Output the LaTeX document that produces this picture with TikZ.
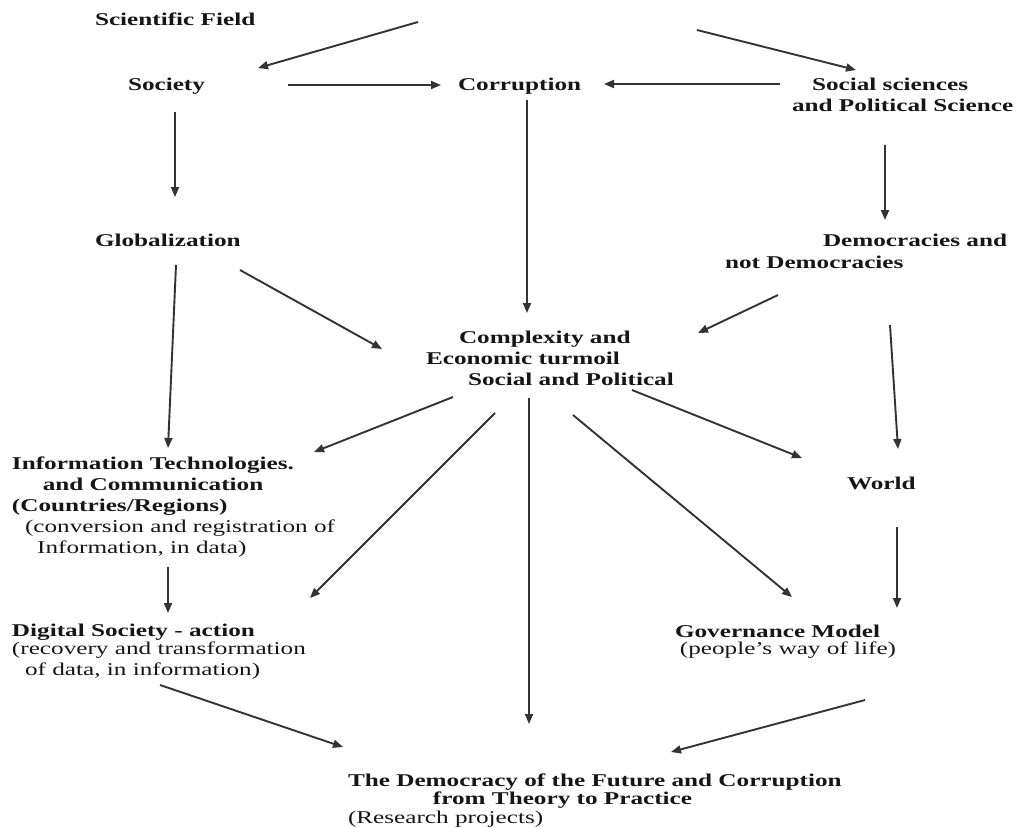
\documentclass[tikz,border=0pt]{standalone}
\usepackage{fontspec}
\setmainfont{Liberation Serif}
\usepackage{graphicx}
\usetikzlibrary{arrows.meta}
\definecolor{ink}{HTML}{161616}
\definecolor{wire}{HTML}{333333}
\newcommand\sx[1]{\scalebox{1.4}[1]{\begin{tabular}[t]{@{}l@{}}#1\end{tabular}}}
\tikzset{
  lbl/.style={anchor=base west, inner sep=0pt, outer sep=0pt, text=ink,
              font=\fontsize{18}{21}\selectfont\bfseries},
  arr/.style={draw=wire, line width=1.9pt, -{Triangle[length=10pt,width=8pt]}}
}
\begin{document}
\begin{tikzpicture}[x=1pt,y=-1pt]
\useasboundingbox (0,0) rectangle (1019,827);
% ---- text nodes ----
\node[lbl] (sf)  at (95,25)   {\sx{Scientific Field}};
\node[lbl] (soc) at (128,90)  {\sx{Society}};
\node[lbl] (cor) at (458,90)  {\sx{Corruption}};
\node[lbl] (ss)  at (792,90)  {\sx{\hspace{14.3pt}Social sciences\\and Political Science}};
\node[lbl] (glo) at (95,246)  {\sx{Globalization}};
\node[lbl] (dem) at (725,246) {\sx{\hspace{70pt}Democracies and\\[1pt]not Democracies}};
\node[lbl] (cx)  at (426,343) {\sx{\hspace{23.6pt}Complexity and\\Economic turmoil\\\hspace{30pt}Social and Political}};
\node[lbl] (it)  at (12,469)  {\sx{Information Technologies.\\\hspace{22pt}and Communication\\(Countries/Regions)\\\mdseries\hspace{9.3pt}(conversion and registration of\\\mdseries\hspace{18pt}Information, in data)}};
\node[lbl] (dig) at (12,636)  {\sx{Digital Society - action\\[-3pt]\mdseries(recovery and transformation\\\mdseries\hspace{9.3pt}of data, in information)}};
\node[lbl] (wor) at (847,489) {\sx{World}};
\node[lbl] (gov) at (675,637) {\sx{Governance Model\\[-4pt]\mdseries\hspace{3.5pt}(people's way of life)}};
\node[lbl] (bot) at (348,786) {\sx{The Democracy of the Future and Corruption\\[-3pt]\hspace{60.7pt}from Theory to Practice\\[-2pt]\mdseries(Research projects)}};
% ---- connector end points ----
\coordinate (sf-a)   at (418,22);  \coordinate (soc-a) at (258,68);
\coordinate (sf-b)   at (697,30);  \coordinate (ss-a)  at (856,70);
\coordinate (soc-b)  at (288,85);  \coordinate (cor-a) at (441,85);
\coordinate (ss-b)   at (780,84);  \coordinate (cor-b) at (604,84);
\coordinate (soc-c)  at (175,112); \coordinate (glo-a) at (175,197);
\coordinate (cor-c)  at (527,100); \coordinate (cx-a)  at (527,313);
\coordinate (ss-c)   at (885,145); \coordinate (dem-a) at (885,220);
\coordinate (glo-b)  at (240,270); \coordinate (cx-b)  at (382,349);
\coordinate (glo-c)  at (176,265); \coordinate (it-a)  at (168,448);
\coordinate (dem-b)  at (778,295); \coordinate (cx-c)  at (698,333);
\coordinate (dem-c)  at (890,325); \coordinate (wor-a) at (898,449);
\coordinate (cx-d)   at (453,397); \coordinate (it-b)  at (314,452);
\coordinate (cx-e)   at (495,413); \coordinate (dig-a) at (310,598);
\coordinate (cx-f)   at (529,398); \coordinate (bot-a) at (529,724);
\coordinate (cx-g)   at (573,415); \coordinate (gov-a) at (792,597);
\coordinate (cx-h)   at (632,390); \coordinate (wor-b) at (802,458);
\coordinate (wor-c)  at (897,527); \coordinate (gov-b) at (897,608);
\coordinate (it-c)   at (168,567); \coordinate (dig-b) at (168,613);
\coordinate (dig-c)  at (160,685); \coordinate (bot-b) at (343,747);
\coordinate (gov-c)  at (865,700); \coordinate (bot-c) at (671,752);
% ---- connectors ----
\draw[arr] (sf-a) -- (soc-a);
\draw[arr] (sf-b) -- (ss-a);
\draw[arr] (soc-b) -- (cor-a);
\draw[arr] (ss-b) -- (cor-b);
\draw[arr] (soc-c) -- (glo-a);
\draw[arr] (cor-c) -- (cx-a);
\draw[arr] (ss-c) -- (dem-a);
\draw[arr] (glo-b) -- (cx-b);
\draw[arr] (glo-c) -- (it-a);
\draw[arr] (dem-b) -- (cx-c);
\draw[arr] (dem-c) -- (wor-a);
\draw[arr] (cx-d) -- (it-b);
\draw[arr] (cx-e) -- (dig-a);
\draw[arr] (cx-f) -- (bot-a);
\draw[arr] (cx-g) -- (gov-a);
\draw[arr] (cx-h) -- (wor-b);
\draw[arr] (wor-c) -- (gov-b);
\draw[arr] (it-c) -- (dig-b);
\draw[arr] (dig-c) -- (bot-b);
\draw[arr] (gov-c) -- (bot-c);
\end{tikzpicture}
\end{document}
